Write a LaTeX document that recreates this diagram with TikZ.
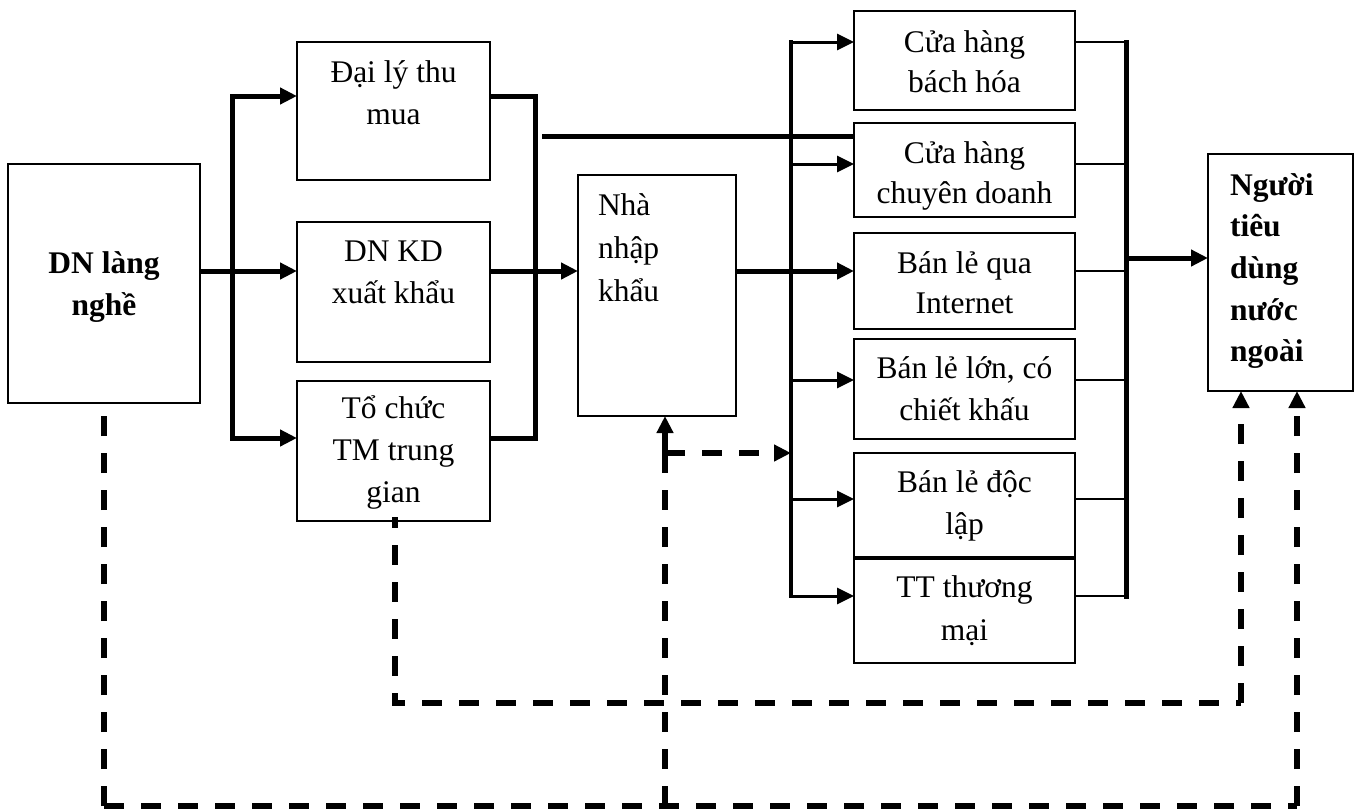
\documentclass[tikz,border=0pt]{standalone}
\usepackage{fontspec}
\setmainfont{Liberation Serif}
\usetikzlibrary{arrows.meta}
% stacked lines whose baseline is that of the first line
\newcommand\ctr[1]{\vtop{\halign{\hfil##\hfil\cr#1\crcr}}}
\newcommand\lft[1]{\vtop{\halign{##\hfil\cr#1\crcr}}}
\tikzset{
  box/.style={draw, line width=1.8pt, inner sep=0pt, outer sep=0pt},
  lbl/.style={inner sep=0pt, outer sep=0pt, font=\fontsize{31.5}{42}\selectfont},
  tight/.style={font=\fontsize{31.5}{40}\selectfont},
  arr/.style={-{Triangle[length=17pt,width=16pt]}},
  thk/.style={line width=5pt, line join=miter},
  brn/.style={line width=3pt, line join=miter},
  thn/.style={line width=2pt},
  bus/.style={line width=4.5pt, line cap=rect},
  dsh/.style={line width=5.5pt, dash pattern=on 20pt off 17pt, line join=miter},
}
\begin{document}
\begin{tikzpicture}[x=1pt, y=-1pt]
\fill[white] (0,0) rectangle (1361,809);
\useasboundingbox (0,0) rectangle (1361,809);

% boxes
\node[box, minimum width=192pt, minimum height=239pt] (dn)   at (104,283.5) {};
\node[box, minimum width=193pt, minimum height=138pt] (dly)  at (393.5,111) {};
\node[box, minimum width=193pt, minimum height=140pt] (dnkd) at (393.5,292) {};
\node[box, minimum width=193pt, minimum height=140pt] (tc)   at (393.5,451) {};
\node[box, minimum width=158pt, minimum height=241pt] (nha)  at (657,295.5) {};
\node[box, minimum width=221pt, minimum height=99pt]  (r1)   at (964.5,60.5) {};
\node[box, minimum width=221pt, minimum height=94pt]  (r2)   at (964.5,170) {};
\node[box, minimum width=221pt, minimum height=96pt]  (r3)   at (964.5,281) {};
\node[box, minimum width=221pt, minimum height=100pt] (r4)   at (964.5,389) {};
\node[box, minimum width=221pt, minimum height=104pt] (r5)   at (964.5,505) {};
\node[box, minimum width=221pt, minimum height=104pt] (r6)   at (964.5,611) {};
\node[box, minimum width=145pt, minimum height=237pt] (ntd)  at (1280.5,272.5) {};

% labels
\node[lbl, anchor=base] (dn-t)   at (104,273)   {\bfseries\ctr{DN làng\cr nghề}};
\node[lbl, anchor=base] (dly-t)  at (393.5,82)  {\ctr{Đại lý thu\cr mua}};
\node[lbl, anchor=base] (dnkd-t) at (393.5,261) {\ctr{DN KD\cr xuất khẩu}};
\node[lbl, anchor=base] (tc-t)   at (393.5,418) {\ctr{Tổ chức\cr TM trung\cr gian}};
\node[lbl, anchor=base west, font=\fontsize{31.5}{43}\selectfont] (nha-t) at (598,215) {\lft{Nhà\cr nhập\cr khẩu}};
\node[lbl, tight, anchor=base] (r1-t) at (964.5,52)  {\ctr{Cửa hàng\cr bách hóa}};
\node[lbl, tight, anchor=base] (r2-t) at (964.5,163) {\ctr{Cửa hàng\cr chuyên doanh}};
\node[lbl, tight, anchor=base] (r3-t) at (964.5,273) {\ctr{Bán lẻ qua\cr Internet}};
\node[lbl, anchor=base] (r4-t) at (964.5,378) {\ctr{Bán lẻ lớn, có\cr chiết khấu}};
\node[lbl, anchor=base] (r5-t) at (964.5,492) {\ctr{Bán lẻ độc\cr lập}};
\node[lbl, anchor=base, font=\fontsize{31.5}{43}\selectfont] (r6-t) at (964.5,597) {\ctr{TT thương\cr mại}};
\node[lbl, anchor=base west, font=\fontsize{31.5}{41.7}\selectfont] (ntd-t) at (1230,195) {\bfseries\lft{Người\cr tiêu\cr dùng\cr nước\cr ngoài}};

% bus points
\coordinate (lbT) at (232,96);   \coordinate (lbB) at (232,438);
\coordinate (rbT) at (535,96);   \coordinate (rbB) at (535,438);
\coordinate (mbT) at (791,42);   \coordinate (mbB) at (791,596);
\coordinate (obT) at (1126,42);  \coordinate (obB) at (1126,596);
\coordinate (h1)  at (542,136);
\coordinate (mid) at (0,271);
\coordinate (out) at (1126,258);

% first stage
\draw[thk, arr] (dn.east |- mid) -- (dnkd.west |- mid);
\draw[thk, arr] (lbB) -- (lbT) -- (dly.west |- lbT);
\draw[thk, arr] (lbT) -- (lbB) -- (tc.west |- lbB);
\draw[thk] (dly.east |- rbT) -- (rbT) -- (rbB) -- (tc.east |- rbB);
\draw[thk, arr] (dnkd.east |- mid) -- (nha.west |- mid);
\draw[thk] (h1) -- (r2.west |- h1);

% retail fan-out
\draw[bus] (mbT) -- (mbB);
\draw[thk, arr] (nha.east |- mid) -- (r3.west |- mid);
\draw[brn, arr] (mbT) -- (r1.west |- mbT);
\draw[brn, arr] (mbT |- 0,164) -- (r2.west |- 0,164);
\draw[brn, arr] (mbT |- 0,380) -- (r4.west |- 0,380);
\draw[brn, arr] (mbT |- 0,499) -- (r5.west |- 0,499);
\draw[brn, arr] (mbB) -- (r6.west |- mbB);

% retail fan-in
\draw[thn] (r1.east |- obT) -- (obT);
\draw[thn] (r2.east |- 0,164) -- (obT |- 0,164);
\draw[thn] (r3.east |- mid) -- (obT |- mid);
\draw[thn] (r4.east |- 0,380) -- (obT |- 0,380);
\draw[thn] (r5.east |- 0,499) -- (obT |- 0,499);
\draw[thn] (r6.east |- obB) -- (obB);
\draw[line width=5pt, line cap=rect] (obT) -- (obB);
\draw[thk, arr] (out) -- (ntd.west |- out);

% direct channels
\coordinate (dA) at (104,806);  \coordinate (dB) at (1297,806);
\coordinate (dC) at (665,806);  \coordinate (dD) at (665,453);
\coordinate (dS) at (395,517);  \coordinate (dE) at (395,703);
\coordinate (dF) at (1241,703);
\draw[dsh] (dA) -- (dn.south);
\draw[dsh] (dA) -- (dB);
\draw[dsh, arr] (dB) -- (dB |- ntd.south);
\draw[dsh] (dD) -- (dC);
\draw[dsh, arr] (dD) -- (mbT |- dD);
\draw[dsh, arr] (dD) -- (dD |- nha.south);
\draw[dsh, dash phase=9pt] (dS) -- (dE) -- (dF);
\draw[dsh, arr] (dF) -- (dF |- ntd.south);
\end{tikzpicture}
\end{document}
